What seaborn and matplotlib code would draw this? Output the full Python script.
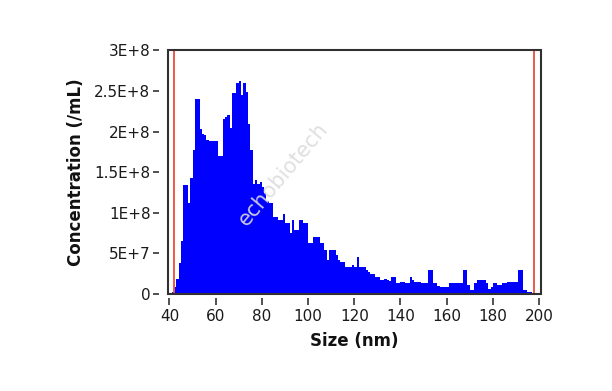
import numpy as np
import pandas as pd
import matplotlib
matplotlib.use("Agg")
import matplotlib.pyplot as plt
from matplotlib.patches import Rectangle
from matplotlib.ticker import FixedLocator
import seaborn as sns

# ---- data (1 nm bins, concentration in units of 1e6 /mL) ----
bin_start = list(range(40, 200))
conc_1e6 = [
    1, 2, 8, 18, 38, 65, 134, 134, 112, 143,          # 40-49
    177, 240, 240, 203, 197, 196, 190, 189, 189, 189,  # 50-59
    188, 170, 170, 216, 218, 220, 204, 247, 247, 260,  # 60-69
    262, 245, 260, 249, 210, 177, 136, 140, 136, 138,  # 70-79
    132, 125, 115, 112, 112, 95, 95, 91, 91, 99,       # 80-89
    87, 87, 75, 91, 79, 79, 91, 91, 87, 87,            # 90-99
    63, 63, 70, 70, 70, 63, 63, 54, 42, 54,            # 100-109
    54, 54, 48, 42, 39, 39, 33, 33, 33, 36,            # 110-119
    33, 46, 33, 33, 33, 30, 27, 25, 25, 21,            # 120-129
    21, 17, 17, 19, 17, 16, 21, 21, 14, 14,            # 130-139
    15, 15, 14, 14, 21, 17, 15, 15, 15, 14,            # 140-149
    14, 14, 29, 29, 14, 13, 10, 9, 9, 9,               # 150-159
    9, 14, 14, 14, 14, 14, 14, 29, 29, 11,             # 160-169
    5, 5, 13, 17, 17, 17, 17, 13, 6, 9,                # 170-179
    13, 13, 11, 11, 14, 14, 15, 15, 15, 15,            # 180-189
    15, 29, 29, 5, 5, 2, 2, 1, 1, 0,                   # 190-199
]
x_ticks = [40, 60, 80, 100, 120, 140, 160, 180, 200]
y_ticks = [0, 5e7, 1e8, 1.5e8, 2e8, 2.5e8, 3e8]
y_tick_labels = ["0", "5E+7", "1E+8", "1.5E+8", "2E+8", "2.5E+8", "3E+8"]
marker_lines = [41.9, 198.0]

df = pd.DataFrame({
    "size": np.array(bin_start, dtype=float) + 0.5,
    "conc": np.array(conc_1e6, dtype=float) * 1e6,
})

sns.set_theme(style="white")
plt.rcParams["font.family"] = ["DejaVu Sans"]

fig = plt.figure(figsize=(6.12, 3.91), dpi=100)
ax = fig.add_axes([0.2745, 0.2481, 0.6087, 0.6228])

sns.histplot(data=df, x="size", weights="conc",
             bins=list(range(40, 201)), element="step", fill=True,
             color="#0000ff", alpha=1.0, linewidth=0, ax=ax)

for v in marker_lines:
    ax.axvline(v, color="#ef5a48", lw=1.4, zorder=3)

ax.set_xlim(39.35, 200.65)
ax.set_ylim(0, 3e8)
ax.xaxis.set_major_locator(FixedLocator(x_ticks))
ax.set_xticklabels([str(t) for t in x_ticks])
ax.yaxis.set_major_locator(FixedLocator(y_ticks))
ax.set_yticklabels(y_tick_labels)

# ticks detached from the frame (JMP-like style)
sns.despine(ax=ax, top=False, right=False, left=False, bottom=False,
            offset={"left": 6.5, "bottom": 2.8})
for sp in ax.spines.values():
    sp.set_visible(False)
ax.add_patch(Rectangle((0, 0), 1, 1, transform=ax.transAxes, fill=False,
                       edgecolor="#303030", lw=1.5, clip_on=False, zorder=5))

ax.tick_params(axis="y", which="major", direction="out", length=4.6,
               width=1.2, color="#333333", labelsize=11, labelcolor="#1a1a1a",
               pad=1.5, left=True)
ax.tick_params(axis="x", which="major", direction="out", length=4.8,
               width=1.2, color="#333333", labelsize=11, labelcolor="#1a1a1a",
               pad=3, bottom=True)

ax.set_xlabel("Size (nm)", fontsize=12, fontweight="bold", labelpad=6,
              color="#111111")
ax.set_ylabel("Concentration (/mL)", fontsize=12, fontweight="bold",
              labelpad=7, color="#111111")

ax.text(0.309, 0.49, "echobiotech", transform=ax.transAxes, rotation=50,
        fontsize=15, color="#dcdcdc", alpha=0.9, ha="center", va="center",
        zorder=4)

fig.savefig("out.png", dpi=100)
